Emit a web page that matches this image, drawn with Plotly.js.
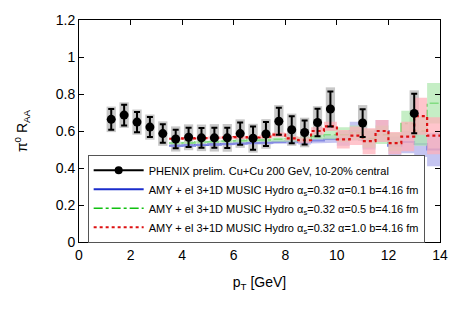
<!DOCTYPE html>
<html>
<head>
<meta charset="utf-8">
<script src="https://cdn.plot.ly/plotly-3.0.1.min.js"></script>
<style>html,body{margin:0;padding:0;background:#fff;}#plot{width:463px;height:310px;}</style>
</head>
<body>
<div id="plot"></div>
<script>
// PHENIX data
const ptData   = [1.25, 1.75, 2.25, 2.75, 3.25, 3.75, 4.25, 4.75, 5.25, 5.75, 6.25, 6.75, 7.25, 7.75, 8.25, 8.75, 9.25, 9.75, 11, 13];
const raaData  = [0.663, 0.686, 0.648, 0.621, 0.586, 0.557, 0.566, 0.563, 0.563, 0.563, 0.586, 0.561, 0.584, 0.653, 0.607, 0.592, 0.646, 0.719, 0.643, 0.695];
const statErr  = [0.056, 0.056, 0.055, 0.054, 0.050, 0.050, 0.052, 0.053, 0.054, 0.055, 0.060, 0.063, 0.065, 0.073, 0.073, 0.065, 0.074, 0.094, 0.075, 0.107];
const sysErr   = [0.069, 0.069, 0.068, 0.068, 0.066, 0.068, 0.070, 0.072, 0.074, 0.075, 0.077, 0.078, 0.080, 0.087, 0.087, 0.080, 0.088, 0.117, 0.097, 0.125];

// Theory bins
const binEdges = [3.5, 4, 4.5, 5, 5.5, 6, 6.5, 7, 7.5, 8, 8.5, 9, 9.5, 10, 10.5, 11, 11.5, 12, 12.5, 13, 13.5, 14];
const blueVals = [0.520, 0.522, 0.525, 0.527, 0.530, 0.532, 0.535, 0.537, 0.540, 0.545, 0.540, 0.548, 0.557, 0.560, 0.600, 0.550, 0.600, 0.520, 0.540, 0.530, 0.500];
const blueErr  = [0.006, 0.006, 0.006, 0.007, 0.007, 0.008, 0.008, 0.009, 0.010, 0.012, 0.013, 0.015, 0.020, 0.040, 0.050, 0.050, 0.060, 0.050, 0.060, 0.070, 0.090];
const greenVals= [0.535, 0.537, 0.540, 0.542, 0.545, 0.547, 0.550, 0.552, 0.555, 0.558, 0.555, 0.570, 0.580, 0.580, 0.590, 0.560, 0.580, 0.540, 0.640, 0.600, 0.750];
const greenErr = [0.006, 0.006, 0.006, 0.007, 0.007, 0.008, 0.008, 0.009, 0.010, 0.012, 0.013, 0.015, 0.025, 0.040, 0.040, 0.050, 0.050, 0.050, 0.070, 0.080, 0.110];
const redVals  = [0.558, 0.560, 0.562, 0.563, 0.565, 0.567, 0.565, 0.570, 0.580, 0.560, 0.550, 0.600, 0.625, 0.555, 0.575, 0.545, 0.600, 0.535, 0.570, 0.680, 0.575];
const redErr   = [0.006, 0.006, 0.006, 0.007, 0.007, 0.008, 0.008, 0.010, 0.012, 0.012, 0.015, 0.020, 0.025, 0.050, 0.050, 0.070, 0.060, 0.060, 0.080, 0.100, 0.100];

const xTicks = [0, 2, 4, 6, 8, 10, 12, 14];
const yTicks = [0, 0.2, 0.4, 0.6, 0.8, 1, 1.2];
const yTickText = ['0', '0.2', '0.4', '0.6', '0.8', '1', '1.2'];

const legendNames = [
  'PHENIX prelim. Cu+Cu 200 GeV, 10-20% central',
  'AMY + el 3+1D MUSIC Hydro α<sub>s</sub>=0.32 α=0.1 b=4.16 fm',
  'AMY + el 3+1D MUSIC Hydro α<sub>s</sub>=0.32 α=0.5 b=4.16 fm',
  'AMY + el 3+1D MUSIC Hydro α<sub>s</sub>=0.32 α=1.0 b=4.16 fm'
];

// step-shaped band polygon built from bin edges, values and errors
function band(vals, errs, color) {
  const xs = [], ys = [];
  for (let i = 0; i < vals.length; i++) {
    xs.push(binEdges[i], binEdges[i + 1]);
    ys.push(vals[i] + errs[i], vals[i] + errs[i]);
  }
  for (let i = vals.length - 1; i >= 0; i--) {
    xs.push(binEdges[i + 1], binEdges[i]);
    ys.push(vals[i] - errs[i], vals[i] - errs[i]);
  }
  return {
    type: 'scatter', mode: 'lines', x: xs, y: ys, fill: 'toself', fillcolor: color,
    line: {width: 0, color: color}, showlegend: false, hoverinfo: 'skip'
  };
}
function stepLine(vals, color, dash, width, name, rank) {
  return {
    type: 'scatter', mode: 'lines', x: binEdges, y: vals.concat([vals[vals.length - 1]]),
    line: {shape: 'hv', color: color, dash: dash, width: width}, name: name, legendrank: rank
  };
}

const traces = [
  {
    type: 'bar', x: ptData, y: sysErr.map(e => 2 * e), base: raaData.map((v, i) => v - sysErr[i]),
    width: 0.36, marker: {color: '#c8c8c8', line: {width: 0}}, showlegend: false, hoverinfo: 'skip'
  },
  stepLine(blueVals, '#1a2ccc', 'solid', 2, legendNames[1], 2),
  band(blueVals, blueErr, 'rgba(175,175,235,0.72)'),
  stepLine(greenVals, '#10c010', 'dashdot', 1.5, legendNames[2], 3),
  band(greenVals, greenErr, 'rgba(175,232,175,0.72)'),
  band(redVals, redErr, 'rgba(255,175,185,0.72)'),
  stepLine(redVals, '#dd1111', 'dot', 2.2, legendNames[3], 4),
  {
    type: 'scatter', mode: 'markers', x: ptData, y: raaData,
    error_y: {type: 'data', array: statErr, visible: true, color: '#000', thickness: 2, width: 3},
    marker: {color: '#000', size: 9, symbol: 'circle'}, showlegend: false
  },
  {
    type: 'scatter', mode: 'lines+markers', x: [null], y: [null],
    line: {color: '#000', width: 2}, marker: {color: '#000', size: 8},
    name: legendNames[0], legendrank: 1
  }
];

const fontFam = 'Liberation Sans, Arial, sans-serif';
const layout = {
  width: 463, height: 310,
  margin: {l: 79, r: 23, t: 20, b: 68},
  paper_bgcolor: '#fff', plot_bgcolor: '#fff',
  barmode: 'overlay',
  font: {family: fontFam, size: 14, color: '#000'},
  showlegend: true,
  legend: {
    x: 0.024, y: 0.393, xanchor: 'left', yanchor: 'top',
    bgcolor: '#fff', bordercolor: '#555', borderwidth: 1,
    font: {family: fontFam, size: 11, color: '#000'},
    itemwidth: 50, tracegroupgap: 0
  },
  xaxis: {
    range: [0, 14], tickvals: xTicks, ticktext: xTicks.map(String),
    ticks: 'inside', ticklen: 5, tickcolor: '#000', showline: true, linecolor: '#000', linewidth: 1,
    mirror: 'ticks', showgrid: false, zeroline: false,
    title: {text: 'p<sub>T</sub> [GeV]', font: {size: 14}, standoff: 15}
  },
  yaxis: {
    range: [0, 1.2], tickvals: yTicks, ticktext: yTickText,
    ticks: 'inside', ticklen: 5, tickcolor: '#000', showline: true, linecolor: '#000', linewidth: 1,
    mirror: 'ticks', showgrid: false, zeroline: false,
    title: {text: 'π<sup>0</sup> R<sub>AA</sub>', font: {size: 14}, standoff: 24}
  }
};

Plotly.newPlot('plot', traces, layout, {displayModeBar: false, staticPlot: true});
</script>
</body>
</html>
